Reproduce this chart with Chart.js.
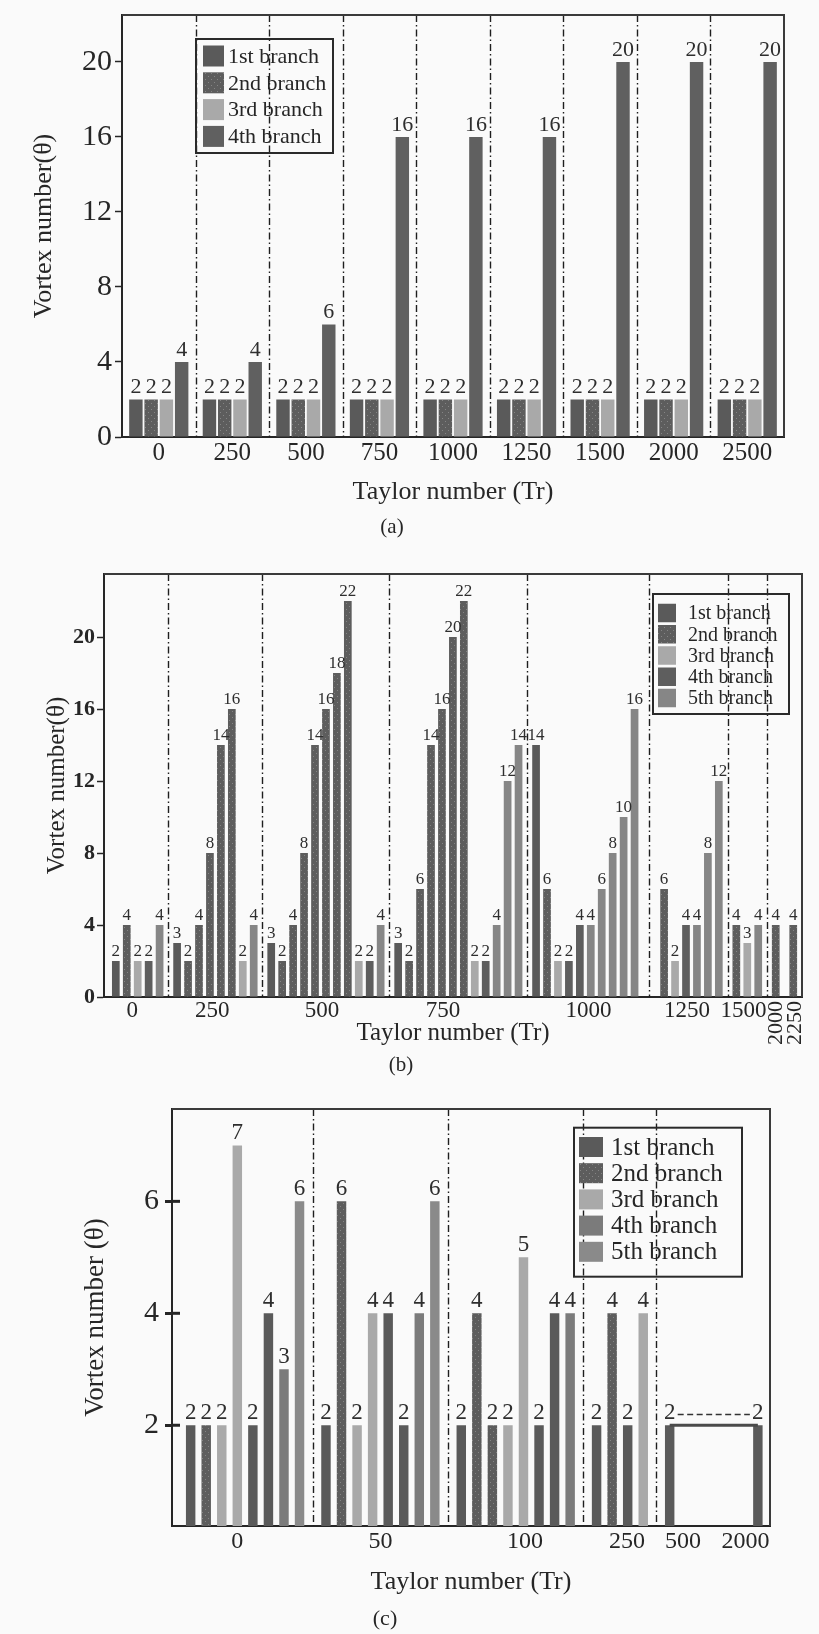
<!DOCTYPE html>
<html>
<head>
<meta charset="utf-8">
<title>Vortex number vs Taylor number</title>
<script src="https://cdn.jsdelivr.net/npm/chart.js@4.4.1/dist/chart.umd.min.js"></script>
<style>
  html, body { margin: 0; padding: 0; background: #fafafa; }
  .panel { position: absolute; left: 0; width: 819px; }
  #pa { top: 0; height: 545px; }
  #pb { top: 545px; height: 537px; }
  #pc { top: 1082px; height: 552px; }
</style>
</head>
<body>
<div class="panel" id="pa"><canvas id="chartA"></canvas></div>
<div class="panel" id="pb"><canvas id="chartB"></canvas></div>
<div class="panel" id="pc"><canvas id="chartC"></canvas></div>
<script>
// (a) four branches, one bar per branch at every Taylor number
const trA = ['0', '250', '500', '750', '1000', '1250', '1500', '2000', '2500'];
const branch1A = [2, 2, 2, 2, 2, 2, 2, 2, 2];
const branch2A = [2, 2, 2, 2, 2, 2, 2, 2, 2];
const branch3A = [2, 2, 2, 2, 2, 2, 2, 2, 2];
const branch4A = [4, 4, 6, 16, 16, 16, 20, 20, 20];
const yTicksA = [0, 4, 8, 12, 16, 20];

// (b) vortex numbers per Taylor number, with the branch each bar belongs to
const trB = ['0', '250', '500', '750', '1000', '1250', '1500', '2000', '2250'];
const vortexB = [
  [2, 4, 2, 2, 4],
  [3, 2, 4, 8, 14, 16, 2, 4],
  [3, 2, 4, 8, 14, 16, 18, 22, 2, 2, 4],
  [3, 2, 6, 14, 16, 20, 22, 2, 2, 4, 12, 14],
  [14, 6, 2, 2, 4, 4, 6, 8, 10, 16],
  [6, 2, 4, 4, 8, 12],
  [4, 3, 4],
  [4],
  [4]
];
const branchB = [
  [1, 2, 3, 4, 5],
  [1, 2, 2, 2, 2, 2, 3, 5],
  [1, 2, 2, 2, 2, 2, 2, 2, 3, 4, 5],
  [1, 2, 2, 2, 2, 2, 2, 3, 4, 5, 5, 5],
  [1, 2, 3, 4, 4, 5, 5, 5, 5, 5],
  [2, 3, 4, 5, 5, 5],
  [2, 3, 5],
  [2],
  [2]
];
const yTicksB = [0, 4, 8, 12, 16, 20];

// (c) low Taylor numbers
const trC = ['0', '50', '100', '250', '500', '2000'];
const vortexC = [
  [2, 2, 2, 7, 2, 4, 3, 6],
  [2, 6, 2, 4, 4, 2, 4, 6],
  [2, 4, 2, 2, 5, 2, 4, 4],
  [2, 4, 2, 4],
  [2],
  [2]
];
const branchC = [
  [1, 2, 3, 3, 1, 1, 4, 5],
  [1, 2, 3, 3, 1, 1, 4, 5],
  [1, 2, 2, 3, 3, 1, 1, 4],
  [1, 2, 1, 3],
  [1],
  [1]
];
const yTicksC = [2, 4, 6];

const branchNames = ['1st branch', '2nd branch', '3rd branch', '4th branch', '5th branch'];

// slot layout of the irregular panels, in bar widths
const layoutB = {
  lead: 1.08, tail: 0.8,
  gaps: [1.6, 1.6, 1.6, 1.6, 2.7, 1.6, 1.6, 1.6],
  split: [1, 1, 1, 1, 1, 1, 1, 0],
  nudge: [-0.5, -0.3, -0.35, -1.4, 0.3, -0.4, -0.35, 0, 0.2],
  rotate: [0, 0, 0, 0, 0, 0, 0, 1, 1]
};
const layoutC = {
  lead: 1.2, tail: 0.78,
  gaps: [1.7, 1.7, 1.7, 1.7, 5.67],
  split: [1, 1, 1, 1, 0],
  nudge: [-0.5, 0, 0.6, 0.45, 0.85, -0.8],
  rotate: [0, 0, 0, 0, 0, 0]
};

const INK = '#262626';
const $ = (id) => document.getElementById(id);

Chart.defaults.font.family = '"Liberation Serif", "Times New Roman", serif';
Chart.defaults.color = INK;

function dots(base, dot) {
  const c = document.createElement('canvas');
  c.width = 6; c.height = 6;
  const g = c.getContext('2d');
  g.fillStyle = base; g.fillRect(0, 0, 6, 6);
  g.fillStyle = dot; g.fillRect(1, 1, 1, 1); g.fillRect(4, 4, 1, 1);
  return g.createPattern(c, 'repeat');
}

const dotted = dots('#5d5d5d', '#858585');
const colsA = ['#5a5a5a', dotted, '#a9a9a9', '#606060'];
const colsB = ['#5a5a5a', dotted, '#a9a9a9', '#5e5e5e', '#868686'];
const colsC = ['#5a5a5a', dotted, '#a9a9a9', '#7b7b7b', '#8a8a8a'];

// lay the bars of each group side by side, leaving a gap between groups
function buildPanel(values, branches, L, nBranches) {
  const sets = Array.from({ length: nBranches }, () => []);
  const centres = [];
  const seps = [];
  let pos = L.lead;
  values.forEach((grp, g) => {
    const first = pos;
    grp.forEach((v, k) => { sets[branches[g][k] - 1].push({ x: pos, y: v }); pos += 1; });
    const last = pos - 1;
    centres.push((first + last) / 2);
    if (g < L.gaps.length) {
      if (L.split[g]) seps.push(last + L.gaps[g] / 2);
      pos = last + L.gaps[g];
    }
  });
  return { sets, centres, seps, max: pos - 1 + L.tail };
}

function yAxis(o) {
  return {
    min: o.min, max: o.max,
    grid: { display: true, drawOnChartArea: false, drawTicks: true, tickLength: o.tickLen, tickWidth: o.tickWidth || 1.5, tickColor: INK },
    border: { color: INK, width: 2 },
    ticks: { font: o.font, padding: o.pad, color: INK },
    afterBuildTicks: s => { s.ticks = o.ticks.map(v => ({ value: v })); },
    afterFit: s => { s.width = o.width; s.paddingTop = 0; s.paddingBottom = 0; },
    title: { display: true, text: o.title, color: INK, font: { size: o.titleSize }, padding: { top: o.titlePad, bottom: 0 } }
  };
}

function xTitle(text, size) {
  return { display: true, text, color: INK, font: { size }, padding: { top: 0, bottom: 0 } };
}

function xLinear(P, labels, L, o) {
  return {
    type: 'linear', min: 0, max: P.max, offset: false, bounds: 'data',
    grid: { display: true, drawOnChartArea: false, drawTicks: false },
    border: { color: INK, width: 2 },
    ticks: {
      autoSkip: false, maxRotation: 0, minRotation: 0, padding: o.pad, font: { size: o.size }, color: INK,
      callback: (v, i) => (L.rotate[i] ? '' : labels[i])
    },
    afterBuildTicks: s => { s.ticks = P.centres.map((c, i) => ({ value: c + L.nudge[i] })); },
    afterFit: s => { s.height = o.height; s.paddingLeft = 0; s.paddingRight = 0; },
    title: xTitle(o.title, o.titleSize)
  };
}

function caption(text, size, top) {
  return { display: true, position: 'bottom', text, color: INK, font: { size, weight: 'normal' }, padding: { top, bottom: 0 } };
}

// separators, value labels, legend box and frame
function makeDeco(cfg) {
  return {
    id: 'deco',
    beforeDatasetsDraw(chart) {
      const { ctx, chartArea: a, scales: { x } } = chart;
      ctx.save();
      ctx.strokeStyle = '#1e1e1e';
      ctx.lineWidth = 1.4;
      ctx.setLineDash([7, 3, 1.5, 3]);
      cfg.separators.forEach(v => {
        const px = Math.round(x.getPixelForValue(v)) + 0.5;
        ctx.beginPath(); ctx.moveTo(px, a.top); ctx.lineTo(px, a.bottom); ctx.stroke();
      });
      ctx.restore();
    },
    afterDatasetsDraw(chart) {
      const { ctx, chartArea: a, scales: { x, y } } = chart;
      ctx.save();

      // value above every bar
      ctx.fillStyle = '#2e2e2e';
      ctx.font = `${cfg.labelSize}px "Liberation Serif", serif`;
      ctx.textAlign = 'center';
      ctx.textBaseline = 'bottom';
      chart.data.datasets.forEach((ds, di) => {
        const meta = chart.getDatasetMeta(di);
        if (meta.type !== 'bar') return;
        meta.data.forEach((el, i) => {
          const d = ds.data[i];
          const v = typeof d === 'object' && d !== null ? d.y : d;
          if (v == null) return;
          ctx.fillText(String(v), el.x, el.y - 1);
        });
      });

      // dashed link between the two labels of the 500-2000 span
      chart.data.datasets.forEach((ds, di) => {
        const meta = chart.getDatasetMeta(di);
        if (meta.type !== 'line') return;
        const p0 = meta.data[0], p1 = meta.data[meta.data.length - 1];
        const ly = p0.y - 1 - cfg.labelSize * 0.42;
        ctx.save();
        ctx.strokeStyle = '#333';
        ctx.lineWidth = 1.5;
        ctx.setLineDash([6, 3.5]);
        ctx.beginPath(); ctx.moveTo(p0.x + 8, ly); ctx.lineTo(p1.x - 8, ly); ctx.stroke();
        ctx.restore();
      });

      // inward half of the heavy y ticks
      if (cfg.innerTick) {
        ctx.strokeStyle = INK;
        ctx.lineWidth = 3;
        cfg.innerTick.forEach(v => {
          const py = y.getPixelForValue(v);
          ctx.beginPath(); ctx.moveTo(a.left, py); ctx.lineTo(a.left + 8, py); ctx.stroke();
        });
      }

      // rotated tick labels for the crowded right end
      if (cfg.rotated) {
        ctx.fillStyle = INK;
        ctx.font = `${cfg.rotated.size}px "Liberation Serif", serif`;
        ctx.textAlign = 'right';
        ctx.textBaseline = 'middle';
        cfg.rotated.items.forEach(it => {
          ctx.save();
          ctx.translate(x.getPixelForValue(it.value), a.bottom + 4);
          ctx.rotate(-Math.PI / 2);
          ctx.fillText(it.text, 0, 0);
          ctx.restore();
        });
      }

      // legend box
      const L = cfg.legend;
      ctx.strokeStyle = '#2a2a2a';
      ctx.lineWidth = 2;
      ctx.strokeRect(L.x, L.y, L.w, L.h);
      ctx.font = `${L.size}px "Liberation Serif", serif`;
      ctx.textAlign = 'left';
      ctx.textBaseline = 'middle';
      cfg.legendSets.forEach((ds, i) => {
        const cy = L.first + i * L.step;
        ctx.fillStyle = ds.backgroundColor;
        ctx.fillRect(L.sx, cy - L.sh / 2, L.sw, L.sh);
        ctx.fillStyle = INK;
        ctx.fillText(ds.label, L.tx, cy + 1);
      });

      // top and right edges of the frame
      ctx.strokeStyle = '#3a3a3a';
      ctx.lineWidth = 2;
      ctx.beginPath();
      ctx.moveTo(a.left, a.top); ctx.lineTo(a.right, a.top); ctx.lineTo(a.right, a.bottom);
      ctx.stroke();
      ctx.restore();
    }
  };
}

const common = {
  responsive: true,
  maintainAspectRatio: false,
  animation: false,
  events: []
};

// ---- (a)
const setsA = [branch1A, branch2A, branch3A, branch4A].map((d, i) => ({
  label: branchNames[i], data: d, backgroundColor: colsA[i],
  categoryPercentage: 0.83, barPercentage: 0.88
}));
new Chart($('chartA'), {
  type: 'bar',
  data: { labels: trA, datasets: setsA },
  options: {
    ...common,
    layout: { padding: { top: 15, right: 35, bottom: 5.4, left: 0 } },
    scales: {
      x: {
        type: 'category', offset: true,
        grid: { display: true, drawOnChartArea: false, drawTicks: false, offset: true },
        border: { color: INK, width: 2 },
        ticks: { font: { size: 25 }, padding: 1, maxRotation: 0, autoSkip: false, color: INK },
        afterFit: s => { s.height = 70.6; s.paddingLeft = 0; s.paddingRight = 0; },
        title: xTitle('Taylor number (Tr)', 26)
      },
      y: yAxis({ min: 0, max: 22.5, ticks: yTicksA, width: 122, tickLen: 7, pad: 3, font: { size: 30 },
        title: 'Vortex number(θ)', titleSize: 26, titlePad: 28.4 })
    },
    plugins: { legend: { display: false }, tooltip: { enabled: false }, title: caption('(a)', 21, 6.8) }
  },
  plugins: [makeDeco({
    separators: trA.slice(1).map((_, i) => i + 0.5),
    labelSize: 22,
    legendSets: setsA,
    legend: { x: 196, y: 39, w: 137, h: 114, first: 56, step: 26.8, sx: 203, sw: 21, sh: 21, tx: 228, size: 22 }
  })]
});

// ---- (b)
const PB = buildPanel(vortexB, branchB, layoutB, 5);
const setsB = PB.sets.map((d, i) => ({
  label: branchNames[i], data: d, backgroundColor: colsB[i], grouped: false, barPercentage: 0.88
}));
new Chart($('chartB'), {
  type: 'bar',
  data: { datasets: setsB },
  options: {
    ...common,
    layout: { padding: { top: 29, right: 17, bottom: 4.4, left: 0 } },
    scales: {
      x: xLinear(PB, trB, layoutB, { pad: 0, size: 23, height: 51, title: 'Taylor number (Tr)', titleSize: 25 }),
      y: yAxis({ min: 0, max: 23.5, ticks: yTicksB, width: 104, tickLen: 7, pad: 2, font: { size: 22, weight: 'bold' },
        title: 'Vortex number(θ)', titleSize: 25, titlePad: 42 })
    },
    plugins: { legend: { display: false }, tooltip: { enabled: false }, title: caption('(b)', 21, 4.4) }
  },
  plugins: [makeDeco({
    separators: PB.seps,
    labelSize: 17,
    legendSets: setsB,
    rotated: { size: 22, items: trB.map((t, i) => ({ text: t, value: PB.centres[i] + layoutB.nudge[i], on: layoutB.rotate[i] })).filter(it => it.on) },
    legend: { x: 653, y: 49, w: 136, h: 120, first: 68, step: 21.25, sx: 658, sw: 18, sh: 18.5, tx: 688, size: 20 }
  })]
});

// ---- (c)
const PC = buildPanel(vortexC, branchC, layoutC, 5);
const setsC = PC.sets.map((d, i) => ({
  label: branchNames[i], data: d, backgroundColor: colsC[i], grouped: false, barPercentage: 0.76
}));
// top edge of the 500-2000 span, joining its two end bars
const spanC = {
  type: 'line',
  data: [{ x: PC.centres[4], y: vortexC[4][0] }, { x: PC.centres[5], y: vortexC[5][0] }],
  borderColor: '#4a4a4a', borderWidth: 3, pointRadius: 0, order: -1
};
new Chart($('chartC'), {
  type: 'bar',
  data: { datasets: [...setsC, spanC] },
  options: {
    ...common,
    layout: { padding: { top: 27, right: 49, bottom: 1.8, left: 0 } },
    scales: {
      x: xLinear(PC, trC, layoutC, { pad: 1.6, size: 24, height: 71.6, title: 'Taylor number (Tr)', titleSize: 26 }),
      y: yAxis({ min: 0.2, max: 7.65, ticks: yTicksC, width: 172, tickLen: 7, tickWidth: 3, pad: 6, font: { size: 30 },
        title: 'Vortex number (θ)', titleSize: 27, titlePad: 80 })
    },
    plugins: { legend: { display: false }, tooltip: { enabled: false }, title: caption('(c)', 22, 8.2) }
  },
  plugins: [makeDeco({
    separators: PC.seps,
    labelSize: 23,
    legendSets: setsC,
    innerTick: yTicksC,
    legend: { x: 574, y: 45.7, w: 168, h: 149, first: 65, step: 26.2, sx: 579, sw: 24, sh: 20, tx: 611, size: 25 }
  })]
});
</script>
</body>
</html>
